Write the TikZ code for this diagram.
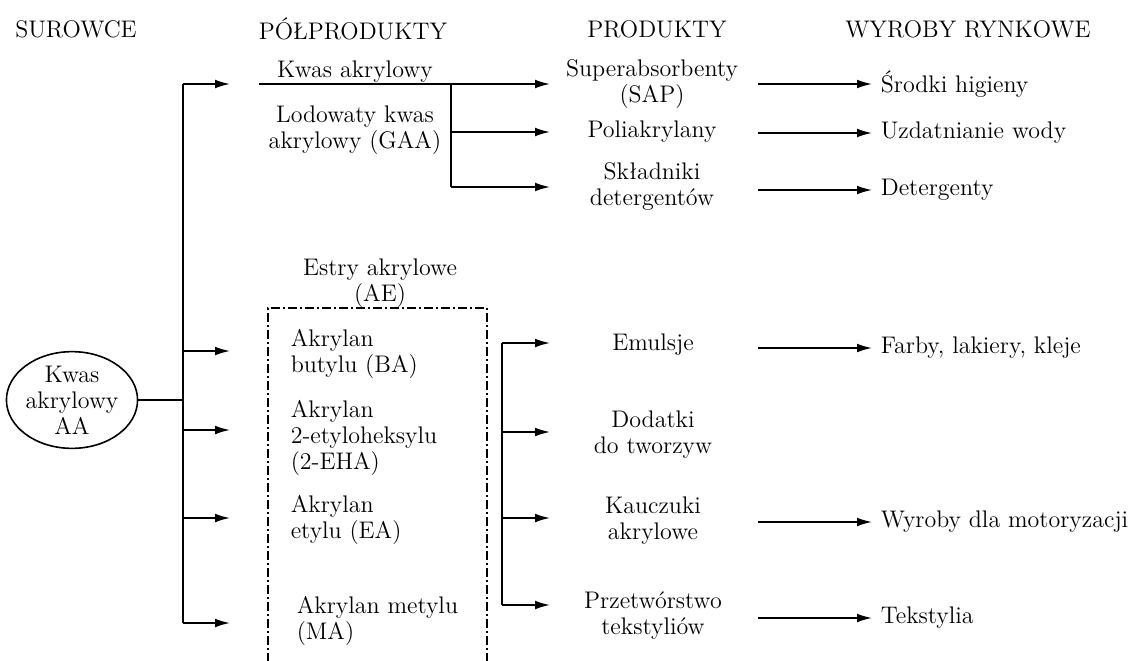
\documentclass[tikz,border=0pt]{standalone}
\usetikzlibrary{arrows.meta,shapes.geometric}
\begin{document}
\begin{tikzpicture}[x=0.5pt,y=-0.5pt, line width=0.8pt,
  txt/.style={inner sep=0pt, font=\fontsize{12}{13}\selectfont, align=center},
  ltxt/.style={txt, align=left},
  arr/.style={-{Latex[length=7.5pt,width=4.4pt]}},
  dd/.style={dash pattern=on 4.5pt off 1.5pt on 1pt off 1.5pt, line width=0.65pt}]
\useasboundingbox (0,0) rectangle (1132,660);
% headers
\node[txt] (hs) at (76,29) {SUROWCE};
\node[txt] (hp) at (353,29) {PÓŁPRODUKTY};
\node[txt] (hpr) at (657,29) {PRODUKTY};
\node[txt] (hw) at (968,29) {WYROBY RYNKOWE};
% raw material
\node[draw, ellipse, txt, minimum width=63pt, minimum height=41pt] (aa) at (72,400) {Kwas\\akrylowy\\AA};
% intermediates
\node[txt] (ka) at (355,72) {Kwas akrylowy};
\node[txt] (gaa) at (355,130) {Lodowaty kwas\\akrylowy (GAA)};
\node[txt] (ae) at (380,283) {Estry akrylowe\\(AE)};
\node[ltxt, anchor=west] (ba) at (290,354) {Akrylan\\butylu (BA)};
\node[ltxt, anchor=west] (eha) at (290,438) {Akrylan\\2-etyloheksylu\\(2-EHA)};
\node[ltxt, anchor=west] (ea) at (290,520) {Akrylan\\etylu (EA)};
\node[ltxt, anchor=west] (ma) at (296,621) {Akrylan metylu\\(MA)};
% products
\node[txt] (sap) at (652,84) {Superabsorbenty\\(SAP)};
\node[txt] (pol) at (652,132) {Poliakrylany};
\node[txt] (det) at (652,187) {Składniki\\detergentów};
\node[txt] (emu) at (653,345) {Emulsje};
\node[txt] (dod) at (653,435) {Dodatki\\do tworzyw};
\node[txt] (kau) at (653,521) {Kauczuki\\akrylowe};
\node[txt] (prz) at (653,616) {Przetwórstwo\\tekstyliów};
% market products
\node[txt, anchor=west, inner xsep=4pt] (hig) at (872,84) {Środki higieny};
\node[txt, anchor=west, inner xsep=4pt] (woda) at (872,133) {Uzdatnianie wody};
\node[txt, anchor=west, inner xsep=4pt] (dete) at (872,190) {Detergenty};
\node[txt, anchor=west, inner xsep=4pt] (farb) at (872,348) {Farby, lakiery, kleje};
\node[txt, anchor=west, inner xsep=4pt] (moto) at (872,522) {Wyroby dla motoryzacji};
\node[txt, anchor=west, inner xsep=4pt] (teks) at (872,618) {Tekstylia};
% coordinates
\coordinate (t0) at (183,84);
\coordinate (t5) at (183,623);
\coordinate (tA) at (230,0);
\coordinate (g0) at (259,84);
\coordinate (b0) at (451,84);
\coordinate (b2) at (451,187);
\coordinate (pA) at (550,0);
\coordinate (r0) at (502,343);
\coordinate (r3) at (502,605);
\coordinate (wA) at (758,0);
% dash-dot frame of esters
\coordinate (f1) at (268,662);
\coordinate (f2) at (268,308);
\coordinate (f3) at (487,308);
\coordinate (f4) at (487,662);
\draw[dd] (f1) -- (f2) -- (f3) -- (f4);
% main trunk
\draw (aa.east) -- (aa.east -| t0);
\draw (t0) -- (t5);
\draw[arr] (t0) -- (t0 -| tA);
\draw[arr] (183,351) -- (tA |- 0,351);
\draw[arr] (183,430) -- (tA |- 0,430);
\draw[arr] (183,518) -- (tA |- 0,518);
\draw[arr] (t5) -- (t5 -| tA);
% upper branch
\draw[arr] (g0) -- (g0 -| pA);
\draw (b0) -- (b2);
\draw[arr] (451,132) -- (pA |- pol);
\draw[arr] (b2) -- (b2 -| pA);
% ester branch
\draw (r0) -- (r3);
\draw[arr] (r0) -- (r0 -| pA);
\draw[arr] (502,432) -- (pA |- 0,432);
\draw[arr] (502,518) -- (pA |- 0,518);
\draw[arr] (r3) -- (r3 -| pA);
% products to market
\draw[arr] (wA |- hig) -- (hig.west);
\draw[arr] (wA |- woda) -- (woda.west);
\draw[arr] (wA |- dete) -- (dete.west);
\draw[arr] (wA |- farb) -- (farb.west);
\draw[arr] (wA |- moto) -- (moto.west);
\draw[arr] (wA |- teks) -- (teks.west);
\end{tikzpicture}
\end{document}
